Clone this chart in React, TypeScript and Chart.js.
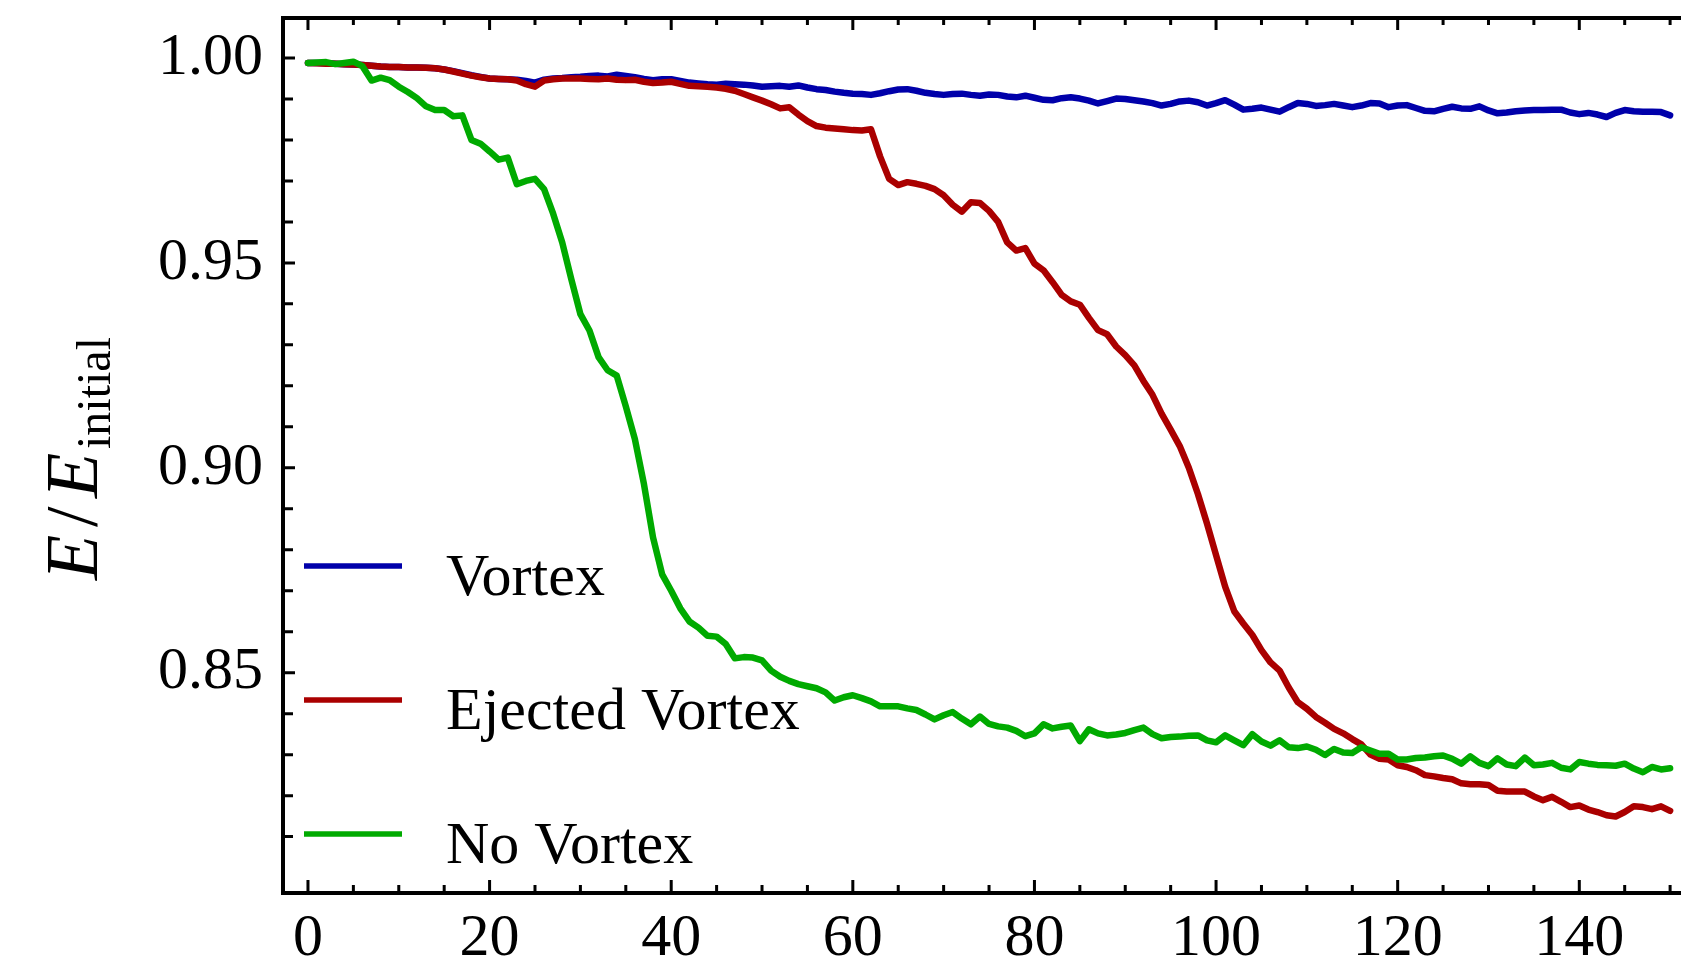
import React, { useEffect, useRef } from "react";
import { Chart, registerables } from "chart.js";

Chart.register(...registerables);

// time samples (x axis)
const times: number[] = Array.from({ length: 151 }, (_, i) => i);

const vortex: number[] = [
  0.9988, 0.9988, 0.9987, 0.9986, 0.9985, 0.9984, 0.9983, 0.9981, 0.9979, 0.9978,
  0.9978, 0.9977, 0.9977, 0.9976, 0.9975, 0.9972, 0.9968, 0.9963, 0.9958, 0.9954,
  0.9950, 0.9949, 0.9948, 0.9947, 0.9944, 0.9940, 0.9947, 0.9950, 0.9951, 0.9953,
  0.9954, 0.9956, 0.9957, 0.9955, 0.9959, 0.9956, 0.9953, 0.9949, 0.9946, 0.9948,
  0.9948, 0.9944, 0.9940, 0.9938, 0.9936, 0.9935, 0.9937, 0.9936, 0.9935, 0.9933,
  0.9930, 0.9931, 0.9932, 0.9930, 0.9933, 0.9928, 0.9924, 0.9922, 0.9918, 0.9915,
  0.9913, 0.9912, 0.9910, 0.9914, 0.9919, 0.9923, 0.9924, 0.9920, 0.9915, 0.9912,
  0.9910, 0.9912, 0.9913, 0.9910, 0.9908, 0.9911, 0.9910, 0.9906, 0.9904, 0.9908,
  0.9903, 0.9898, 0.9897, 0.9902, 0.9904, 0.9901, 0.9896, 0.9889, 0.9895, 0.9901,
  0.9900, 0.9897, 0.9894, 0.9890, 0.9884, 0.9888, 0.9894, 0.9896, 0.9892, 0.9884,
  0.9890, 0.9897, 0.9886, 0.9874, 0.9876, 0.9879, 0.9874, 0.9869, 0.9880, 0.9890,
  0.9888, 0.9883, 0.9885, 0.9888, 0.9884, 0.9880, 0.9884, 0.9890, 0.9889, 0.9880,
  0.9884, 0.9885, 0.9878, 0.9871, 0.9870, 0.9876, 0.9881, 0.9877, 0.9876, 0.9882,
  0.9872, 0.9865, 0.9867, 0.9870, 0.9872, 0.9873, 0.9873, 0.9874, 0.9874, 0.9867,
  0.9863, 0.9866, 0.9862, 0.9856, 0.9866, 0.9873, 0.9870, 0.9869, 0.9869, 0.9868,
  0.9860,
];

const ejectedVortex: number[] = [
  0.9988, 0.9987, 0.9986, 0.9986, 0.9985, 0.9984, 0.9983, 0.9981, 0.9979, 0.9978,
  0.9978, 0.9977, 0.9977, 0.9976, 0.9975, 0.9972, 0.9967, 0.9962, 0.9957, 0.9953,
  0.9950, 0.9949, 0.9948, 0.9945, 0.9936, 0.9930, 0.9945, 0.9948, 0.9950, 0.9950,
  0.9950, 0.9949, 0.9948, 0.9950, 0.9947, 0.9946, 0.9947, 0.9942, 0.9939, 0.9940,
  0.9942, 0.9937, 0.9932, 0.9931, 0.9930, 0.9928, 0.9925, 0.9920, 0.9912, 0.9904,
  0.9896, 0.9887, 0.9877, 0.9880, 0.9862, 0.9846, 0.9834, 0.9830, 0.9828, 0.9826,
  0.9824, 0.9823, 0.9826, 0.9760, 0.9705, 0.9690, 0.9697, 0.9693, 0.9688, 0.9680,
  0.9665, 0.9642, 0.9625, 0.9648, 0.9646, 0.9627, 0.9600, 0.9550, 0.9530, 0.9536,
  0.9498, 0.9482, 0.9453, 0.9422, 0.9406, 0.9398, 0.9366, 0.9336, 0.9326, 0.9296,
  0.9275, 0.9250, 0.9212, 0.9178, 0.9132, 0.9093, 0.9053, 0.9000, 0.8936, 0.8864,
  0.8787, 0.8710, 0.8650, 0.8620, 0.8592, 0.8555, 0.8525, 0.8505, 0.8464, 0.8428,
  0.8412, 0.8392, 0.8378, 0.8363, 0.8352, 0.8338, 0.8325, 0.8300, 0.8290, 0.8288,
  0.8274, 0.8270, 0.8262, 0.8250, 0.8247, 0.8243, 0.8240, 0.8230, 0.8228, 0.8228,
  0.8226, 0.8212, 0.8210, 0.8210, 0.8210, 0.8198, 0.8189, 0.8197, 0.8185, 0.8172,
  0.8176, 0.8166, 0.8160, 0.8152, 0.8149, 0.8160, 0.8174, 0.8172, 0.8167, 0.8174,
  0.8163,
];

const noVortex: number[] = [
  0.9988, 0.9989, 0.9990, 0.9985, 0.9988, 0.9991, 0.9980, 0.9945, 0.9952, 0.9946,
  0.9930, 0.9917, 0.9902, 0.9882, 0.9873, 0.9873, 0.9858, 0.9860, 0.9800, 0.9791,
  0.9772, 0.9752, 0.9757, 0.9692, 0.9700, 0.9705, 0.9680, 0.9620, 0.9550, 0.9460,
  0.9375, 0.9335, 0.9270, 0.9238, 0.9225, 0.9150, 0.9070, 0.8960, 0.8830, 0.8740,
  0.8700, 0.8657, 0.8625, 0.8610, 0.8590, 0.8588, 0.8570, 0.8535, 0.8538, 0.8537,
  0.8530, 0.8505, 0.8490, 0.8480, 0.8472, 0.8467, 0.8462, 0.8452, 0.8432, 0.8440,
  0.8445, 0.8438, 0.8430, 0.8418, 0.8418, 0.8418, 0.8413, 0.8409, 0.8398, 0.8386,
  0.8396, 0.8404, 0.8388, 0.8374, 0.8393, 0.8375, 0.8369, 0.8366, 0.8358, 0.8345,
  0.8352, 0.8374, 0.8364, 0.8368, 0.8371, 0.8333, 0.8362, 0.8352, 0.8347, 0.8349,
  0.8353, 0.8360, 0.8366, 0.8350, 0.8340, 0.8343, 0.8344, 0.8346, 0.8347, 0.8335,
  0.8330, 0.8347, 0.8335, 0.8323, 0.8350, 0.8332, 0.8322, 0.8335, 0.8318, 0.8316,
  0.8320, 0.8312, 0.8299, 0.8314, 0.8305, 0.8304, 0.8318, 0.8310, 0.8302, 0.8302,
  0.8288, 0.8288, 0.8292, 0.8293, 0.8296, 0.8298, 0.8290, 0.8278, 0.8296, 0.8280,
  0.8272, 0.8291, 0.8276, 0.8272, 0.8293, 0.8274, 0.8276, 0.8280, 0.8268, 0.8264,
  0.8282, 0.8278, 0.8275, 0.8274, 0.8273, 0.8278, 0.8266, 0.8257, 0.8270, 0.8264,
  0.8267,
];

const seriesLabels: string[] = ["Vortex", "Ejected Vortex", "No Vortex"];
const seriesColors: string[] = ["#0000aa", "#aa0000", "#00aa00"];

const xMajorTicks: number[] = [0, 20, 40, 60, 80, 100, 120, 140];
const xMinorTicks: number[] = [
  5, 10, 15, 25, 30, 35, 45, 50, 55, 65, 70, 75, 85, 90, 95, 105, 110, 115, 125, 130, 135, 145, 150,
];
const yMajorTicks: number[] = [0.85, 0.9, 0.95, 1.0];
const yMinorTicks: number[] = [
  0.81, 0.82, 0.83, 0.84, 0.86, 0.87, 0.88, 0.89, 0.91, 0.92, 0.93, 0.94, 0.96, 0.97, 0.98, 0.99,
];

const FONT = "'Liberation Serif', 'Times New Roman', serif";

const framePlugin = {
  id: "frameTicks",
  afterDraw(chart: any) {
    const { ctx, chartArea: a, scales } = chart;
    const x = scales.x;
    const y = scales.y;
    ctx.save();
    ctx.strokeStyle = "#000";
    ctx.lineWidth = 4;
    ctx.lineCap = "butt";
    ctx.beginPath();
    ctx.moveTo(a.right + 10, a.top);
    ctx.lineTo(a.left, a.top);
    ctx.lineTo(a.left, a.bottom);
    ctx.lineTo(a.right + 10, a.bottom);
    ctx.stroke();
    ctx.lineWidth = 3;
    ctx.beginPath();
    const xt = (v: number, len: number) => {
      const px = x.getPixelForValue(v);
      ctx.moveTo(px, a.bottom);
      ctx.lineTo(px, a.bottom - len);
      ctx.moveTo(px, a.top);
      ctx.lineTo(px, a.top + len - 1);
    };
    xMajorTicks.forEach((v) => xt(v, 13));
    xMinorTicks.forEach((v) => xt(v, 8));
    const yt = (v: number, len: number) => {
      const py = y.getPixelForValue(v);
      ctx.moveTo(a.left, py);
      ctx.lineTo(a.left + len, py);
    };
    yMajorTicks.forEach((v) => yt(v, 12));
    yMinorTicks.forEach((v) => yt(v, 10));
    ctx.stroke();
    ctx.restore();
  },
};

const legendPlugin = {
  id: "customLegend",
  afterDraw(chart: any) {
    const { ctx } = chart;
    const rows = [566, 700, 834];
    ctx.save();
    ctx.font = `60px ${FONT}`;
    ctx.fillStyle = "#000";
    ctx.textBaseline = "alphabetic";
    ctx.textAlign = "left";
    seriesLabels.forEach((label, i) => {
      ctx.strokeStyle = seriesColors[i];
      ctx.lineWidth = 5.5;
      ctx.beginPath();
      ctx.moveTo(304, rows[i]);
      ctx.lineTo(402, rows[i]);
      ctx.stroke();
      ctx.fillText(label, 446, rows[i] + 29);
    });
    ctx.restore();
  },
};

const yTitlePlugin = {
  id: "yTitle",
  afterDraw(chart: any) {
    const { ctx } = chart;
    ctx.save();
    ctx.translate(97, 580);
    ctx.rotate(-Math.PI / 2);
    ctx.fillStyle = "#000";
    ctx.textBaseline = "alphabetic";
    ctx.textAlign = "left";
    ctx.font = `italic 74px ${FONT}`;
    ctx.fillText("E", 0, 0);
    ctx.font = `74px ${FONT}`;
    ctx.fillText("/", 53, 0);
    ctx.font = `italic 74px ${FONT}`;
    ctx.fillText("E", 82, 0);
    ctx.font = `48px ${FONT}`;
    ctx.fillText("initial", 131, 13);
    ctx.restore();
  },
};

export default function App() {
  const canvasRef = useRef<HTMLCanvasElement | null>(null);

  useEffect(() => {
    const canvas = canvasRef.current;
    if (!canvas) return;
    const datasets = [vortex, ejectedVortex, noVortex].map((data, i) => ({
      label: seriesLabels[i],
      data,
      borderColor: seriesColors[i],
      backgroundColor: seriesColors[i],
      borderWidth: 6.5,
      pointRadius: 0,
      tension: 0,
      fill: false,
      borderJoinStyle: "round" as const,
      borderCapStyle: "round" as const,
      order: 3 - i,
    }));
    const chart = new Chart(canvas, {
      type: "line",
      data: { labels: times, datasets },
      options: {
        animation: false,
        responsive: false,
        maintainAspectRatio: false,
        devicePixelRatio: 1,
        layout: { padding: { top: 18, left: 0, right: 0, bottom: 0 } },
        plugins: {
          legend: { display: false },
          tooltip: { enabled: false },
          title: { display: false },
        },
        scales: {
          x: {
            type: "linear",
            min: -2.75,
            max: 151.2,
            grid: { display: false, drawTicks: false },
            border: { display: false },
            ticks: {
              color: "#000",
              font: { family: FONT, size: 60 },
              padding: 10,
              maxRotation: 0,
              autoSkip: false,
              callback: (v: any) => String(v),
            },
            afterBuildTicks: (s: any) => {
              s.ticks = xMajorTicks.map((v) => ({ value: v }));
            },
            afterFit: (s: any) => {
              s.height = 69;
              s.paddingLeft = 0;
              s.paddingRight = 0;
            },
          },
          y: {
            type: "linear",
            min: 0.79624,
            max: 1.00976,
            grid: { display: false, drawTicks: false },
            border: { display: false },
            ticks: {
              color: "#000",
              font: { family: FONT, size: 60 },
              padding: 20,
              autoSkip: false,
              callback: (v: any) => Number(v).toFixed(2),
            },
            afterBuildTicks: (s: any) => {
              s.ticks = yMajorTicks.map((v) => ({ value: v }));
            },
            afterFit: (s: any) => {
              s.width = 283;
              s.paddingTop = 0;
              s.paddingBottom = 0;
            },
          },
        },
      },
      plugins: [framePlugin, legendPlugin, yTitlePlugin],
    });
    return () => chart.destroy();
  }, []);

  return (
    <div style={{ position: "absolute", left: 0, top: 0, width: 1681, height: 962, background: "#fff" }}>
      <canvas ref={canvasRef} width={1681} height={962} style={{ width: 1681, height: 962, display: "block" }} />
    </div>
  );
}
